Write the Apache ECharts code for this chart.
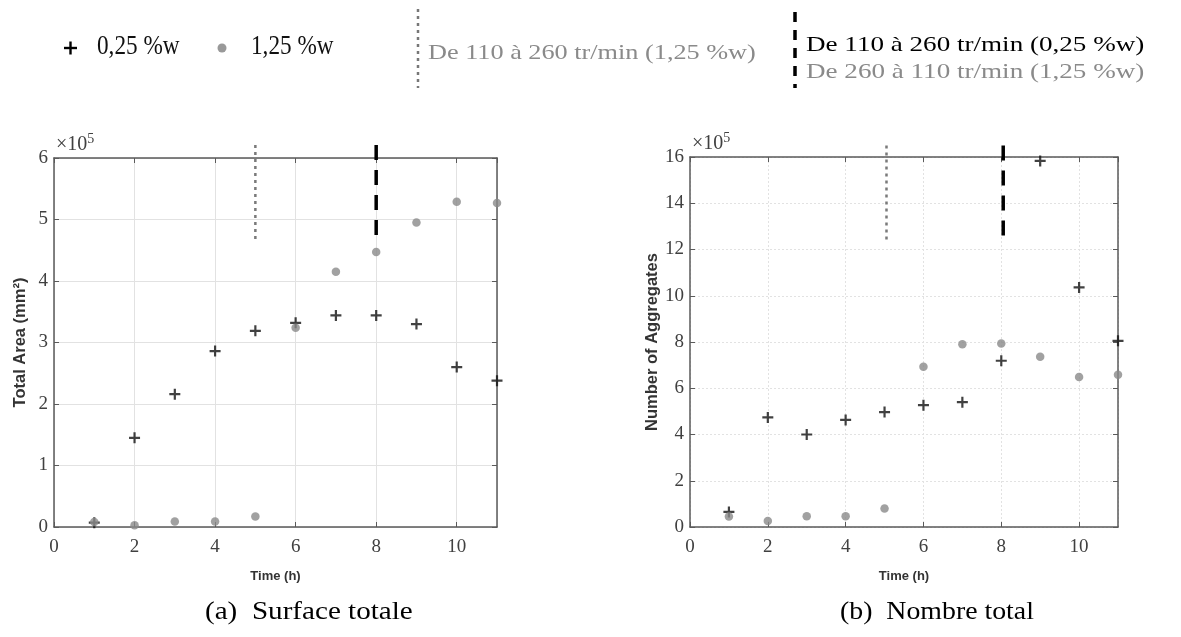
<!DOCTYPE html>
<html>
<head>
<meta charset="utf-8">
<script src="https://cdn.jsdelivr.net/npm/echarts@6/dist/echarts.min.js"></script>
<style>
html,body{margin:0;padding:0;background:#fff;}
#c{width:1181px;height:637px;}
</style>
</head>
<body>
<div id="c"></div>
<script>
// ---- data (values in units of 1e5) ----
const times = [1, 2, 3, 4, 5, 6, 7, 8, 9, 10, 11];
const areaLow = [0.07, 1.45, 2.16, 2.86, 3.19, 3.32, 3.44, 3.44, 3.30, 2.60, 2.38];   // 0,25 %w
const areaHigh = [0.08, 0.03, 0.09, 0.09, 0.17, 3.24, 4.15, 4.47, 4.95, 5.29, 5.27];  // 1,25 %w
const countLow = [0.65, 4.74, 4.00, 4.63, 4.97, 5.27, 5.40, 7.19, 15.83, 10.36, 8.05]; // 0,25 %w
const countHigh = [0.45, 0.26, 0.46, 0.46, 0.80, 6.93, 7.90, 7.94, 7.36, 6.49, 6.58]; // 1,25 %w
// speed change markers: [time, top value, bottom value]
const areaDotted = [5, 6.21, 4.68];
const areaDashed = [8, 6.21, 4.67];
const countDotted = [5.05, 16.5, 12.4];
const countDashed = [8.05, 16.5, 12.4];
const xTicks = { min: 0, max: 11, interval: 2 };
const yAreaTicks = { min: 0, max: 6, interval: 1 };
const yCountTicks = { min: 0, max: 16, interval: 2 };
const seriesNames = ['0,25 %w', '1,25 %w'];
const legendTexts = ['De 110 à 260 tr/min (1,25 %w)', 'De 110 à 260 tr/min (0,25 %w)', 'De 260 à 110 tr/min (1,25 %w)'];
const captions = ['(a)  Surface totale', '(b)  Nombre total'];
const axisNames = ['Time (h)', 'Total Area (mm²)', 'Number of Aggregates'];

const zip = (xs, ys) => xs.map((x, i) => [x, ys[i]]);
const vline = (m) => [[m[0], m[1]], [m[0], m[2]]];

const SERIF = 'Liberation Serif';
const SANS = 'Liberation Sans';
const AX = '#5a5a5a';
const LBL = '#404040';
const GREY = '#8a8a8a';
const PLUS = 'path://M0,4H10V6H0Z M4,0H6V10H4Z';

function xAxisPair(gi, dotted) {
  return [{
    type: 'value', gridIndex: gi, position: 'bottom', min: xTicks.min, max: xTicks.max, interval: xTicks.interval,
    name: axisNames[0], nameLocation: 'middle', nameGap: 43,
    nameTextStyle: { fontFamily: SANS, fontWeight: 'bold', fontSize: 13, color: '#333' },
    axisLine: { show: true, onZero: false, lineStyle: { color: AX, width: 1.5 } },
    axisTick: { show: true, inside: true, length: 5, lineStyle: { color: AX } },
    axisLabel: { fontFamily: SERIF, fontSize: 19, color: LBL, margin: 11, showMaxLabel: false },
    splitLine: { show: true, lineStyle: { color: '#e2e2e2', width: 1, type: dotted ? [2, 2] : 'solid' } }
  }, {
    type: 'value', gridIndex: gi, position: 'top', min: xTicks.min, max: xTicks.max, interval: xTicks.interval,
    axisLine: { show: true, onZero: false, lineStyle: { color: AX, width: 1.5 } },
    axisTick: { show: true, inside: true, length: 5, lineStyle: { color: AX } },
    axisLabel: { show: false }, splitLine: { show: false }
  }];
}
function yAxisPair(gi, ticks, name, dotted) {
  return [{
    type: 'value', gridIndex: gi, position: 'left', min: ticks.min, max: ticks.max, interval: ticks.interval,
    name: name, nameLocation: 'middle', nameGap: 25, nameRotate: 90,
    nameTextStyle: { fontFamily: SANS, fontWeight: 'bold', fontSize: 16.5, color: '#333' },
    axisLine: { show: true, onZero: false, lineStyle: { color: AX, width: 1.5 } },
    axisTick: { show: true, inside: true, length: 5, lineStyle: { color: AX } },
    axisLabel: { fontFamily: SERIF, fontSize: 19, color: LBL, margin: 6 },
    splitLine: { show: true, lineStyle: { color: '#e2e2e2', width: 1, type: dotted ? [2, 2] : 'solid' } }
  }, {
    type: 'value', gridIndex: gi, position: 'right', min: ticks.min, max: ticks.max, interval: ticks.interval,
    axisLine: { show: true, onZero: false, lineStyle: { color: AX, width: 1.5 } },
    axisTick: { show: true, inside: true, length: 5, lineStyle: { color: AX } },
    axisLabel: { show: false }, splitLine: { show: false }
  }];
}

function pointSeries(xi, yi, lowData, highData) {
  return [{
    type: 'scatter', name: seriesNames[0], xAxisIndex: xi, yAxisIndex: yi, data: zip(times, lowData),
    symbol: PLUS, symbolSize: 11, itemStyle: { color: '#111' }, clip: false, z: 3
  }, {
    type: 'scatter', name: seriesNames[1], xAxisIndex: xi, yAxisIndex: yi, data: zip(times, highData),
    symbol: 'circle', symbolSize: 8.5, itemStyle: { color: GREY }, clip: false, z: 4
  }];
}
function markerSeries(xi, yi, dotted, dashed) {
  return [{
    type: 'line', xAxisIndex: xi, yAxisIndex: yi, data: vline(dotted), symbol: 'none', clip: false, z: 5,
    lineStyle: { color: '#7a7a7a', width: 2.5, type: [3, 4] }
  }, {
    type: 'line', xAxisIndex: xi, yAxisIndex: yi, data: vline(dashed), symbol: 'none', clip: false, z: 5,
    lineStyle: { color: '#000', width: 3.5, type: [15, 10] }
  }];
}

const expText = (x, y) => ({
  type: 'text', x: x, y: y,
  style: { text: '{a|×10}{b|5}', rich: { a: { fontFamily: SERIF, fontSize: 20, fill: LBL }, b: { fontFamily: SERIF, fontSize: 14, fill: LBL, padding: [0, 0, 12, 0] } } }
});
const txt = (x, y, text, size, fill, sx) => ({
  type: 'text', x: x, y: y, scaleX: sx,
  style: { text: text, fontFamily: SERIF, fontSize: size, fill: fill, verticalAlign: 'middle', align: 'left' }
});

const option = {
  backgroundColor: '#fff',
  animation: false,
  grid: [
    { left: 54, top: 158, width: 443, height: 369 },
    { left: 690, top: 157, width: 428, height: 370 }
  ],
  xAxis: [...xAxisPair(0, false), ...xAxisPair(1, true)],
  yAxis: [...yAxisPair(0, yAreaTicks, axisNames[1], false), ...yAxisPair(1, yCountTicks, axisNames[2], true)],
  series: [
    ...pointSeries(0, 0, areaLow, areaHigh),
    ...markerSeries(0, 0, areaDotted, areaDashed),
    ...pointSeries(2, 2, countLow, countHigh),
    ...markerSeries(2, 2, countDotted, countDashed)
  ],
  graphic: [
    expText(56, 132),
    expText(692, 131),
    // legend
    { type: 'line', shape: { x1: 64, y1: 48, x2: 77, y2: 48 }, style: { stroke: '#000', lineWidth: 2.4 } },
    { type: 'line', shape: { x1: 70.5, y1: 41.5, x2: 70.5, y2: 54.5 }, style: { stroke: '#000', lineWidth: 2.4 } },
    txt(97, 47, seriesNames[0], 27, '#111', 0.86),
    { type: 'circle', shape: { cx: 222, cy: 48, r: 4.5 }, style: { fill: '#999' } },
    txt(251, 47, seriesNames[1], 27, '#111', 0.86),
    { type: 'line', shape: { x1: 418, y1: 9, x2: 418, y2: 88 }, style: { stroke: '#777', lineWidth: 2.5, lineDash: [3, 4] } },
    txt(428, 53, legendTexts[0], 21, '#8a8a8a', 1.25),
    { type: 'line', shape: { x1: 795, y1: 12, x2: 795, y2: 88 }, style: { stroke: '#000', lineWidth: 3.5, lineDash: [10, 8] } },
    txt(806, 45, legendTexts[1], 21, '#000', 1.29),
    txt(806, 72, legendTexts[2], 21, '#8a8a8a', 1.29),
    // captions
    txt(205, 612, captions[0], 26, '#000', 1.12),
    txt(840, 612, captions[1], 26, '#000', 1.07)
  ]
};

const chart = echarts.init(document.getElementById('c'), null, { renderer: 'canvas' });
chart.setOption(option);
</script>
</body>
</html>
